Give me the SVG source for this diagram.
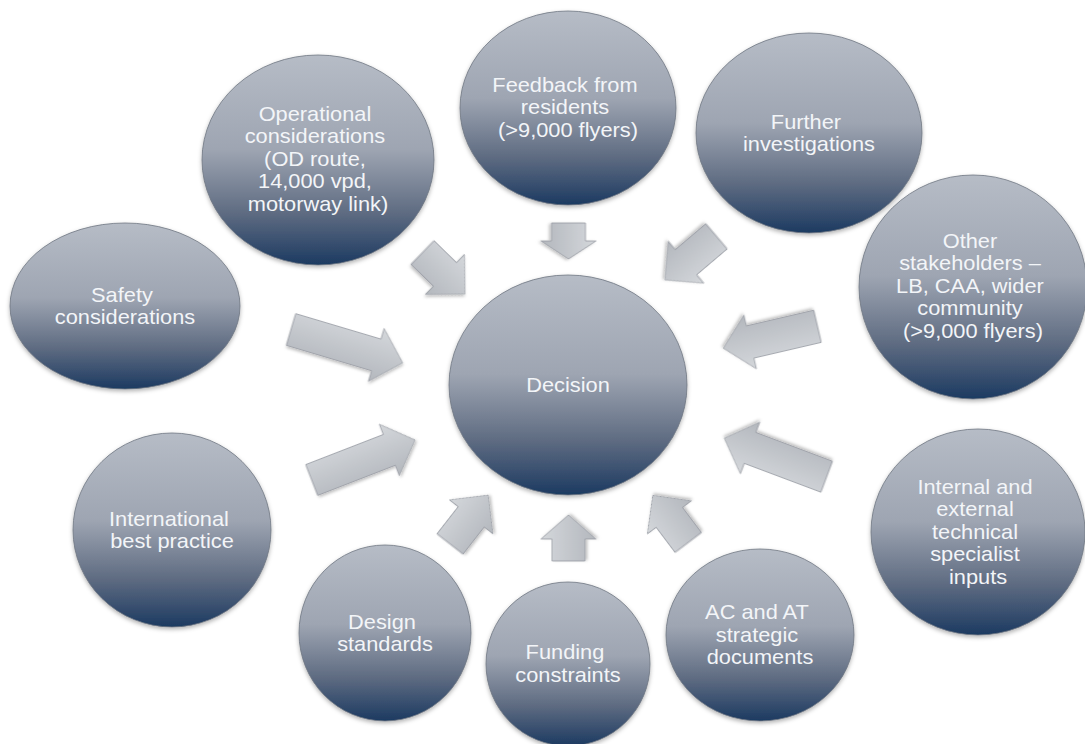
<svg xmlns="http://www.w3.org/2000/svg" width="1085" height="744" viewBox="0 0 1085 744">
  <defs>
    <linearGradient id="gCircle" x1="0" y1="0" x2="0" y2="1">
      <stop offset="0" stop-color="#b6bcc6"/>
      <stop offset="0.45" stop-color="#9ea5b2"/>
      <stop offset="0.75" stop-color="#5f6c82"/>
      <stop offset="1" stop-color="#1c3a61"/>
    </linearGradient>
    <linearGradient id="gArrow" x1="0" y1="0" x2="0" y2="1">
      <stop offset="0" stop-color="#d4d7db"/>
      <stop offset="1" stop-color="#b3b7bd"/>
    </linearGradient>
    <filter id="shadow" x="-20%" y="-20%" width="140%" height="140%">
      <feDropShadow dx="0" dy="2" stdDeviation="2" flood-color="#000" flood-opacity="0.3"/>
    </filter>
    <filter id="ashadow" x="-20%" y="-30%" width="140%" height="160%">
      <feDropShadow dx="1" dy="2" stdDeviation="1.5" flood-color="#000" flood-opacity="0.25"/>
    </filter>
  </defs>
  <style>
    .node { fill: url(#gCircle); stroke: #6e7682; stroke-width: 0.8; filter: url(#shadow); }
    .lbl { font-family: "Liberation Sans", Arial, sans-serif; font-size: 20px; fill: #f3f5f8; text-anchor: middle; }
    .arrow { fill: url(#gArrow); stroke: #979ba2; stroke-width: 0.8; filter: url(#ashadow); }
  </style>
  <rect width="1085" height="744" fill="#ffffff"/>

  <g id="connectors">
    <path class="arrow" transform="translate(422.5,252.5) rotate(44.3)" d="M0,-16.5 L31.4,-16.5 L31.4,-28 L59.4,0 L31.4,28 L31.4,16.5 L0,16.5 Z"/>
    <path class="arrow" transform="translate(568.5,223) rotate(90)" d="M0,-17 L18,-17 L18,-27.5 L36,0 L18,27.5 L18,17 L0,17 Z"/>
    <path class="arrow" transform="translate(716.5,236.3) rotate(139.7)" d="M0,-16.5 L40,-16.5 L40,-27.5 L67.5,0 L40,27.5 L40,16.5 L0,16.5 Z"/>
    <path class="arrow" transform="translate(817.5,326.3) rotate(166.9)" d="M0,-16.5 L69.2,-16.5 L69.2,-27.5 L96.7,0 L69.2,27.5 L69.2,16.5 L0,16.5 Z"/>
    <path class="arrow" transform="translate(291,329.5) rotate(16.6)" d="M0,-16.5 L89,-16.5 L89,-27.5 L116.5,0 L89,27.5 L89,16.5 L0,16.5 Z"/>
    <path class="arrow" transform="translate(311.7,480) rotate(-21.2)" d="M0,-16.5 L83.3,-16.5 L83.3,-27.5 L110.8,0 L83.3,27.5 L83.3,16.5 L0,16.5 Z"/>
    <path class="arrow" transform="translate(450,544) rotate(-52)" d="M0,-16.5 L34.5,-16.5 L34.5,-27.5 L62,0 L34.5,27.5 L34.5,16.5 L0,16.5 Z"/>
    <path class="arrow" transform="translate(568.5,561) rotate(-90)" d="M0,-16.5 L22,-16.5 L22,-27.5 L46,0 L22,27.5 L22,16.5 L0,16.5 Z"/>
    <path class="arrow" transform="translate(688.3,542.5) rotate(-127)" d="M0,-16.5 L31.5,-16.5 L31.5,-27.5 L59,0 L31.5,27.5 L31.5,16.5 L0,16.5 Z"/>
    <path class="arrow" transform="translate(826.7,476.7) rotate(-159.4)" d="M0,-16.5 L81.9,-16.5 L81.9,-27.5 L109.4,0 L81.9,27.5 L81.9,16.5 L0,16.5 Z"/>
  </g>

  <g id="node-decision">
    <ellipse class="node" cx="568" cy="385" rx="119" ry="110"/>
    <text class="lbl" transform="matrix(1.09 0 0 1 568 0)"><tspan x="0" y="392">Decision</tspan></text>
  </g>
  <g id="node-operational">
    <ellipse class="node" cx="318" cy="160" rx="116" ry="105"/>
    <text class="lbl" transform="matrix(1.09 0 0 1 318 0)">
      <tspan x="0" y="121">Operational</tspan>
      <tspan x="0" y="143.5">considerations</tspan>
      <tspan x="0" y="166">(OD route,</tspan>
      <tspan x="0" y="188.5">14,000 vpd,</tspan>
      <tspan x="0" y="211">motorway link)</tspan>
    </text>
  </g>
  <g id="node-feedback">
    <ellipse class="node" cx="568" cy="108" rx="108" ry="97"/>
    <text class="lbl" transform="matrix(1.09 0 0 1 568 0)">
      <tspan x="0" y="92">Feedback from</tspan>
      <tspan x="0" y="114.5">residents</tspan>
      <tspan x="0" y="137">(&gt;9,000 flyers)</tspan>
    </text>
  </g>
  <g id="node-further">
    <ellipse class="node" cx="809" cy="133" rx="113" ry="100"/>
    <text class="lbl" transform="matrix(1.09 0 0 1 809 0)">
      <tspan x="0" y="129">Further</tspan>
      <tspan x="0" y="151.5">investigations</tspan>
    </text>
  </g>
  <g id="node-other">
    <ellipse class="node" cx="973" cy="287" rx="114" ry="112"/>
    <text class="lbl" transform="matrix(1.09 0 0 1 973 0)">
      <tspan x="0" y="248">Other</tspan>
      <tspan x="0" y="270.5">stakeholders –</tspan>
      <tspan x="0" y="293">LB, CAA, wider</tspan>
      <tspan x="0" y="315.5">community</tspan>
      <tspan x="0" y="338">(&gt;9,000 flyers)</tspan>
    </text>
  </g>
  <g id="node-safety">
    <ellipse class="node" cx="125" cy="306" rx="115" ry="83"/>
    <text class="lbl" transform="matrix(1.09 0 0 1 125 0)">
      <tspan x="0" y="301.75">Safety</tspan>
      <tspan x="0" y="324.25">considerations</tspan>
    </text>
  </g>
  <g id="node-international">
    <ellipse class="node" cx="172" cy="530" rx="99" ry="97"/>
    <text class="lbl" transform="matrix(1.09 0 0 1 172 0)">
      <tspan x="0" y="525.75">International</tspan>
      <tspan x="0" y="548.25">best practice</tspan>
    </text>
  </g>
  <g id="node-design">
    <ellipse class="node" cx="385" cy="633" rx="86" ry="88"/>
    <text class="lbl" transform="matrix(1.09 0 0 1 385 0)">
      <tspan x="0" y="628.75">Design</tspan>
      <tspan x="0" y="651.25">standards</tspan>
    </text>
  </g>
  <g id="node-funding">
    <ellipse class="node" cx="568" cy="664" rx="82" ry="82"/>
    <text class="lbl" transform="matrix(1.09 0 0 1 568 0)">
      <tspan x="0" y="659.25">Funding</tspan>
      <tspan x="0" y="681.75">constraints</tspan>
    </text>
  </g>
  <g id="node-acat">
    <ellipse class="node" cx="760" cy="635" rx="94" ry="86"/>
    <text class="lbl" transform="matrix(1.09 0 0 1 760 0)">
      <tspan x="0" y="619.5">AC and AT</tspan>
      <tspan x="0" y="642">strategic</tspan>
      <tspan x="0" y="664.5">documents</tspan>
    </text>
  </g>
  <g id="node-internal">
    <ellipse class="node" cx="978" cy="532" rx="107" ry="103"/>
    <text class="lbl" transform="matrix(1.09 0 0 1 978 0)">
      <tspan x="0" y="494">Internal and</tspan>
      <tspan x="0" y="516.5">external</tspan>
      <tspan x="0" y="539">technical</tspan>
      <tspan x="0" y="561.5">specialist</tspan>
      <tspan x="0" y="584">inputs</tspan>
    </text>
  </g>
</svg>
